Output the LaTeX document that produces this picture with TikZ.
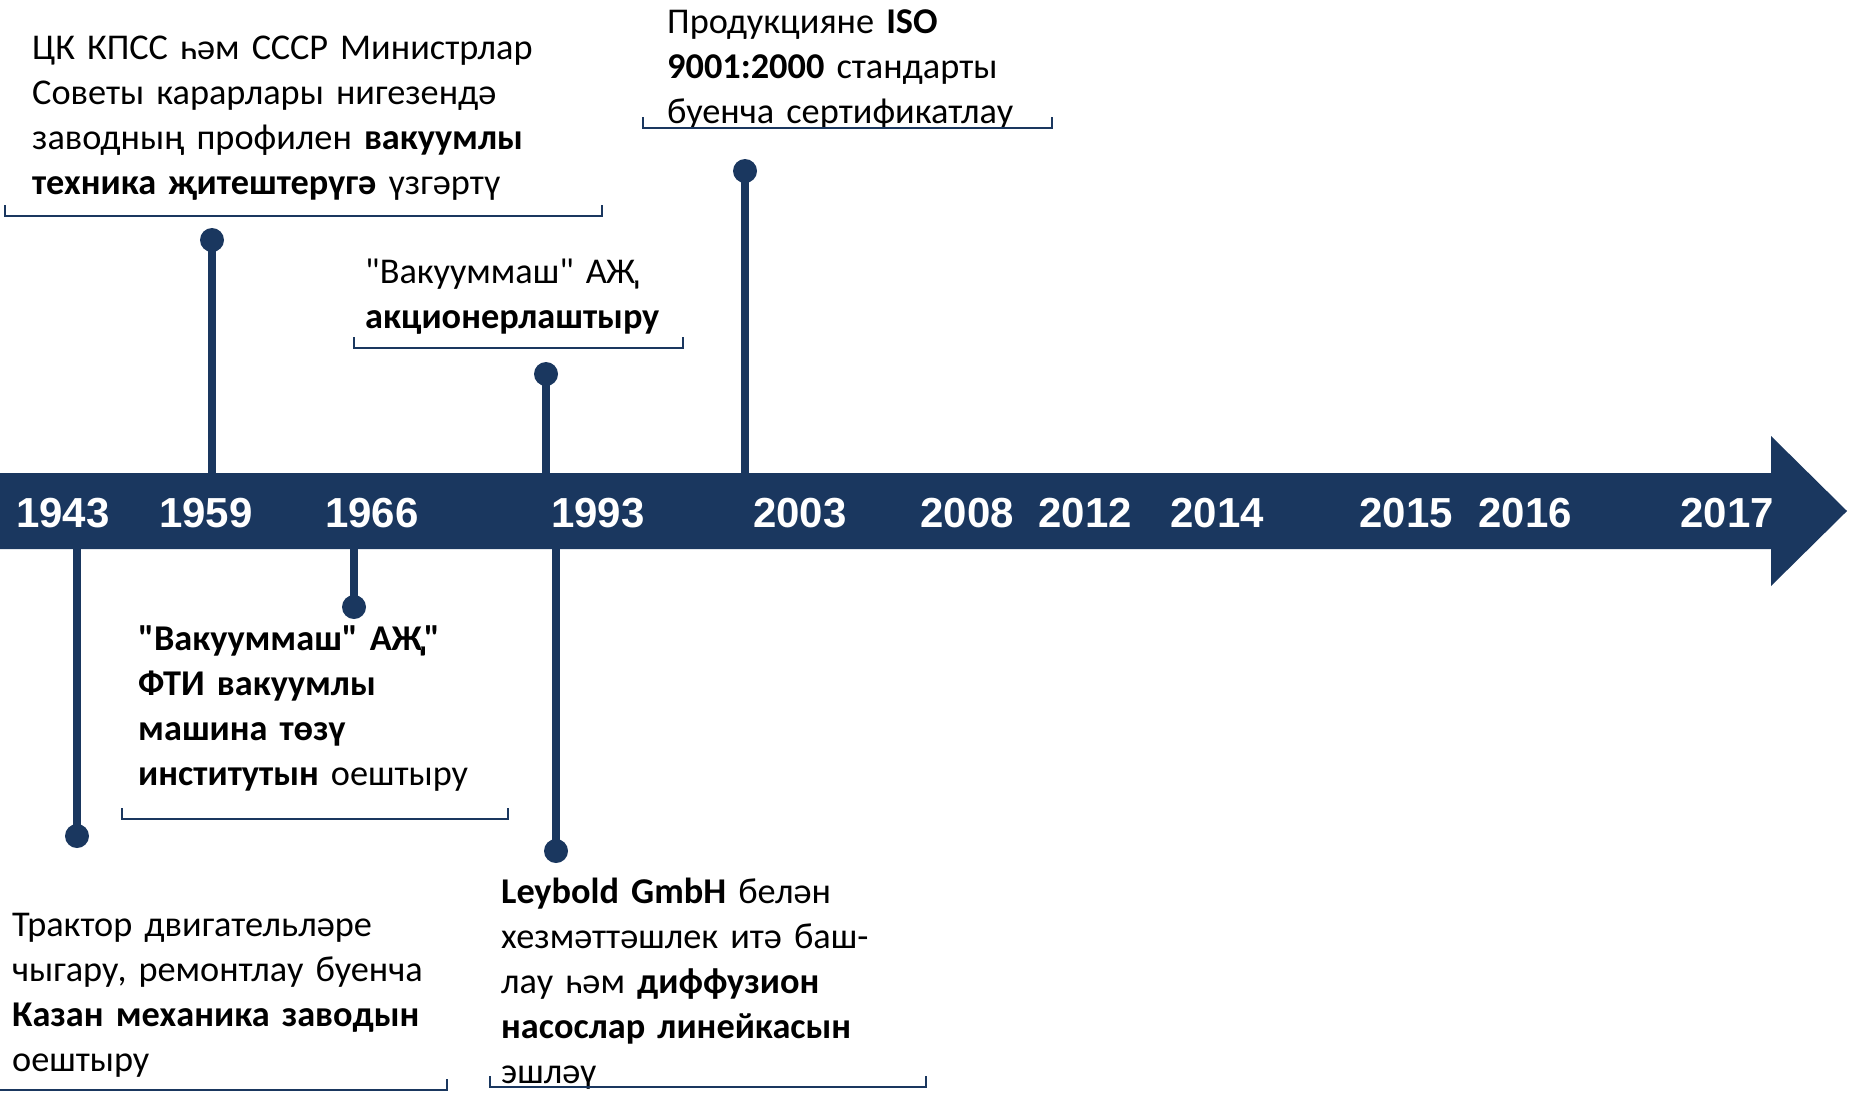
\documentclass[tikz,border=0pt]{standalone}
\usepackage{fontspec}
\setmainfont{Carlito}[Ligatures=TeXOff]
\newfontfamily\yearfont{Liberation Sans}
\definecolor{navy}{HTML}{1A375F}
\tikzset{
 bandshape/.style={fill=navy, draw=none},
 yearlbl/.style={font=\yearfont\bfseries\fontsize{42}{42}\selectfont, text=white, anchor=base, inner sep=0pt},
 stemline/.style={draw=navy, line width=8pt},
 dotnode/.style={circle, fill=navy, minimum size=24pt, inner sep=0pt},
 bracketline/.style={draw=navy, line width=1.8pt},
 evtext/.style={anchor=base west, inner sep=0pt, text width=700pt, align=left, font=\fontsize{36.3}{45}\selectfont}
}
\begin{document}
\begin{tikzpicture}[x=1pt,y=-1pt]
\useasboundingbox (0,0) rectangle (1854,1096);
% timeline arrow
\fill[bandshape] (0,473) -- (1771,473) -- (1771,436) -- (1847,511) -- (1771,586) -- (1771,549) -- (0,549) -- cycle;
% years
\node[yearlbl] (y1943) at (63,527) {1943};
\node[yearlbl] (y1959) at (206,527) {1959};
\node[yearlbl] (y1966) at (372,527) {1966};
\node[yearlbl] (y1993) at (598,527) {1993};
\node[yearlbl] (y2003) at (800,527) {2003};
\node[yearlbl] (y2008) at (967,527) {2008};
\node[yearlbl] (y2012) at (1085,527) {2012};
\node[yearlbl] (y2014) at (1217,527) {2014};
\node[yearlbl] (y2015) at (1406,527) {2015};
\node[yearlbl] (y2016) at (1525,527) {2016};
\node[yearlbl] (y2017) at (1727,527) {2017};
% stems up
\coordinate (s1959) at (212,473);
\coordinate (s1993u) at (546,473);
\coordinate (s2003) at (745,473);
% stems down
\coordinate (s1943) at (77,549);
\coordinate (s1966) at (354,549);
\coordinate (s1993d) at (556,549);
\node[dotnode] (d1959) at (212,240) {};
\node[dotnode] (d1993u) at (546,374) {};
\node[dotnode] (d2003) at (745,171) {};
\node[dotnode] (d1943) at (77,836) {};
\node[dotnode] (d1966) at (354,607) {};
\node[dotnode] (d1993d) at (556,851) {};
\draw[stemline] (s1959) -- (d1959.center);
\draw[stemline] (s1993u) -- (d1993u.center);
\draw[stemline] (s2003) -- (d2003.center);
\draw[stemline] (s1943) -- (d1943.center);
\draw[stemline] (s1966) -- (d1966.center);
\draw[stemline] (s1993d) -- (d1993d.center);
% texts
\node[evtext] (t1959) at (32,59) {ЦК КПСС һәм СССР Министрлар\\Советы карарлары нигезендә\\заводның профилен \textbf{вакуумлы}\\\textbf{техника җитештерүгә} үзгәртү};
\node[evtext] (t2003) at (667,33) {Продукцияне \textbf{ISO}\\\textbf{9001:2000} стандарты\\буенча сертификатлау};
\node[evtext] (t1993u) at (365,283) {"Вакууммаш" АҖ\\\textbf{акционерлаштыру}};
\node[evtext] (t1966) at (138,650) {\textbf{"Вакууммаш" АҖ"}\\\textbf{ФТИ вакуумлы}\\\textbf{машина төзү}\\\textbf{институтын} оештыру};
\node[evtext] (t1943) at (12,936) {Трактор двигательләре\\чыгару, ремонтлау буенча\\\textbf{Казан механика заводын}\\оештыру};
\node[evtext] (t1993d) at (501,903) {\textbf{Leybold GmbH} белән\\хезмәттәшлек итә баш-\\лау һәм \textbf{диффузион}\\\textbf{насослар линейкасын}\\эшләү};
% brackets (ticks point up)
\coordinate (b1l) at (5,216); \coordinate (b1r) at (602,216);
\draw[bracketline] ([yshift=11pt]b1l) -- (b1l) -- (b1r) -- ([yshift=11pt]b1r);
\coordinate (b2l) at (643,128); \coordinate (b2r) at (1052,128);
\draw[bracketline] ([yshift=11pt]b2l) -- (b2l) -- (b2r) -- ([yshift=11pt]b2r);
\coordinate (b3l) at (354,348); \coordinate (b3r) at (683,348);
\draw[bracketline] ([yshift=11pt]b3l) -- (b3l) -- (b3r) -- ([yshift=11pt]b3r);
\coordinate (b4l) at (122,819); \coordinate (b4r) at (508,819);
\draw[bracketline] ([yshift=11pt]b4l) -- (b4l) -- (b4r) -- ([yshift=11pt]b4r);
\coordinate (b5l) at (0,1090); \coordinate (b5r) at (447,1090);
\draw[bracketline] (b5l) -- (b5r) -- ([yshift=11pt]b5r);
\coordinate (b6l) at (490,1087); \coordinate (b6r) at (926,1087);
\draw[bracketline] ([yshift=11pt]b6l) -- (b6l) -- (b6r) -- ([yshift=11pt]b6r);
\end{tikzpicture}
\end{document}
